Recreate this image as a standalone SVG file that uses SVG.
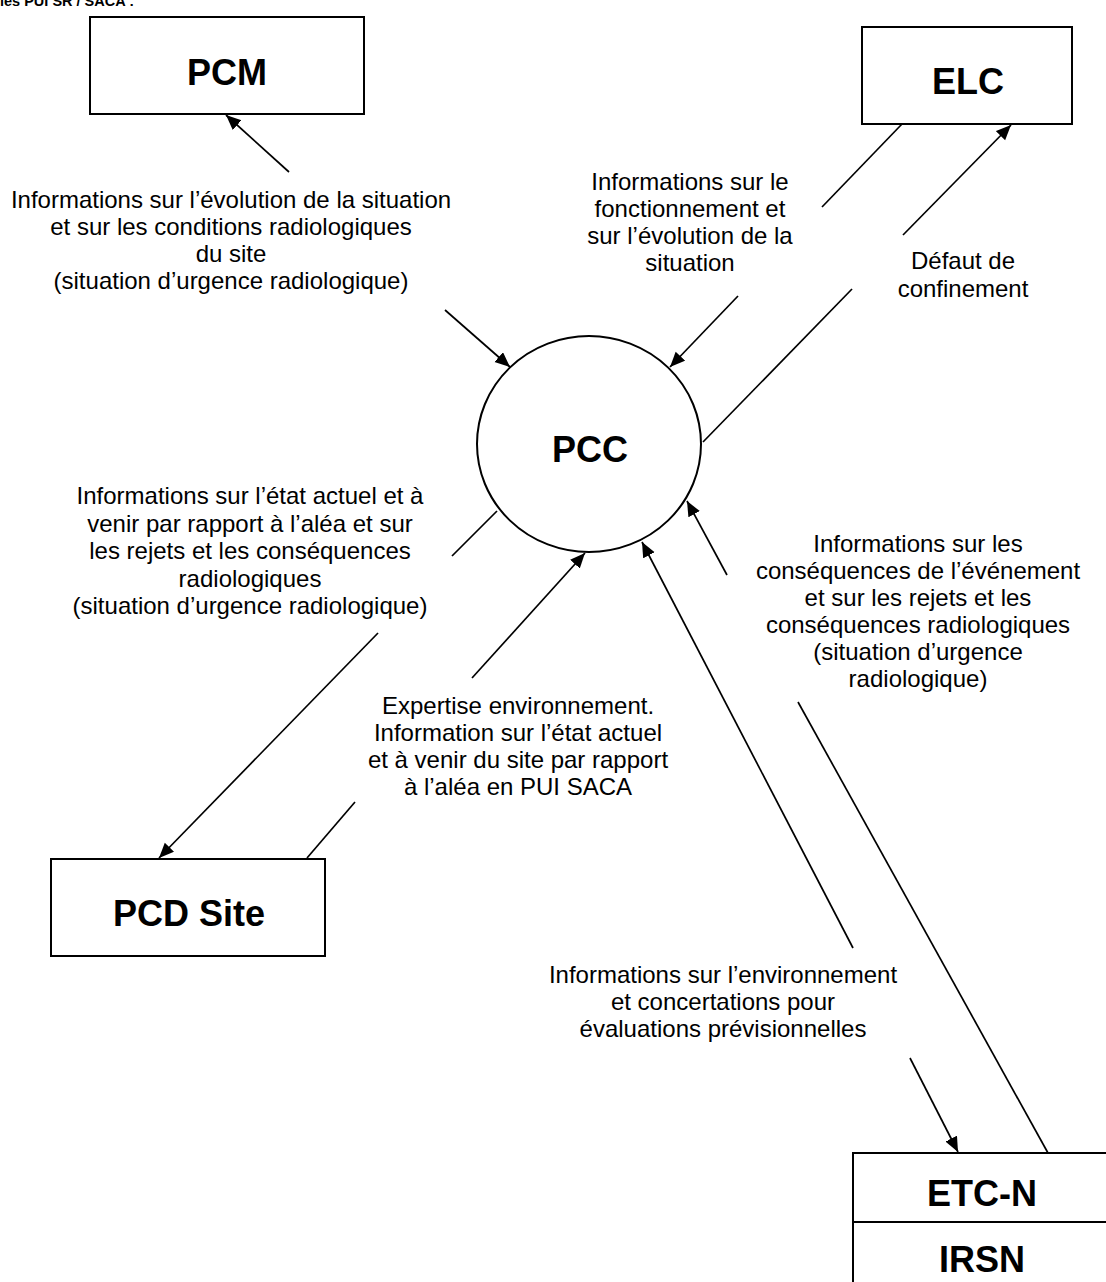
<svg xmlns="http://www.w3.org/2000/svg" width="1106" height="1282" viewBox="0 0 1106 1282">
<style>
.box{fill:#fff;stroke:#000;stroke-width:2}
.nl{font-family:"Liberation Sans",Arial,sans-serif;font-weight:bold;font-size:36px;text-anchor:middle;fill:#000}
.lb{font-family:"Liberation Sans",Arial,sans-serif;font-size:24px;text-anchor:middle;fill:#000}
.ti{font-family:"Liberation Sans",Arial,sans-serif;font-weight:bold;font-size:14.5px;fill:#000}
.c line{stroke:#000;stroke-width:1.7;fill:none}
</style>
<defs>
<marker id="ah" markerUnits="userSpaceOnUse" markerWidth="16" markerHeight="14" refX="15" refY="6.5" orient="auto">
<path d="M0,0 L15,6.5 L0,13 z" fill="#000"/>
</marker>
</defs>
<rect width="1106" height="1282" fill="#fff"/>
<text class="ti" x="0" y="6">les PUI SR / SACA :</text>

<g id="PCM"><rect class="box" x="90" y="17" width="274" height="97"/><text class="nl" x="227" y="85">PCM</text></g>
<g id="ELC"><rect class="box" x="862" y="27" width="210" height="97"/><text class="nl" x="968" y="94">ELC</text></g>
<g id="PCC"><ellipse class="box" cx="589" cy="444" rx="112" ry="108"/><text class="nl" x="590" y="462">PCC</text></g>
<g id="PCDSite"><rect class="box" x="51" y="859" width="274" height="97"/><text class="nl" x="189" y="926">PCD Site</text></g>
<g id="ETCN"><rect class="box" x="853" y="1153" width="262" height="140"/><line x1="853" y1="1222" x2="1115" y2="1222" stroke="#000" stroke-width="2"/><text class="nl" x="982" y="1206">ETC-N</text><text class="nl" x="982" y="1272">IRSN</text></g>

<g id="connectors" class="c">
<line x1="289" y1="172" x2="226" y2="115" marker-end="url(#ah)"/>
<line x1="445" y1="310" x2="510" y2="367" marker-end="url(#ah)"/>
<line x1="902" y1="124" x2="822" y2="207"/>
<line x1="738" y1="296" x2="670" y2="367" marker-end="url(#ah)"/>
<line x1="703" y1="442" x2="852" y2="289"/>
<line x1="903" y1="235" x2="1011" y2="125" marker-end="url(#ah)"/>
<line x1="497" y1="511" x2="452" y2="556"/>
<line x1="378" y1="633" x2="159" y2="858" marker-end="url(#ah)"/>
<line x1="307" y1="858" x2="355" y2="802"/>
<line x1="472" y1="678" x2="585" y2="553" marker-end="url(#ah)"/>
<line x1="1048" y1="1153" x2="798" y2="702"/>
<line x1="727" y1="575" x2="687" y2="501" marker-end="url(#ah)"/>
<line x1="853" y1="948" x2="642" y2="542" marker-end="url(#ah)"/>
<line x1="910" y1="1058" x2="958" y2="1152" marker-end="url(#ah)"/>
</g>

<g id="labels">
<text class="lb" x="231" y="208">Informations sur l’évolution de la situation</text>
<text class="lb" x="231" y="235">et sur les conditions radiologiques</text>
<text class="lb" x="231" y="262">du site</text>
<text class="lb" x="231" y="289">(situation d’urgence radiologique)</text>

<text class="lb" x="690" y="190">Informations sur le</text>
<text class="lb" x="690" y="217">fonctionnement et</text>
<text class="lb" x="690" y="244">sur l’évolution de la</text>
<text class="lb" x="690" y="271">situation</text>

<text class="lb" x="963" y="269">Défaut de</text>
<text class="lb" x="963" y="297">confinement</text>

<text class="lb" x="250" y="504">Informations sur l’état actuel et à</text>
<text class="lb" x="250" y="532">venir par rapport à l’aléa et sur</text>
<text class="lb" x="250" y="559">les rejets et les conséquences</text>
<text class="lb" x="250" y="587">radiologiques</text>
<text class="lb" x="250" y="614">(situation d’urgence radiologique)</text>

<text class="lb" x="518" y="714">Expertise environnement.</text>
<text class="lb" x="518" y="741">Information sur l’état actuel</text>
<text class="lb" x="518" y="768">et à venir du site par rapport</text>
<text class="lb" x="518" y="795">à l’aléa en PUI SACA</text>

<text class="lb" x="918" y="552">Informations sur les</text>
<text class="lb" x="918" y="579">conséquences de l’événement</text>
<text class="lb" x="918" y="606">et sur les rejets et les</text>
<text class="lb" x="918" y="633">conséquences radiologiques</text>
<text class="lb" x="918" y="660">(situation d’urgence</text>
<text class="lb" x="918" y="687">radiologique)</text>

<text class="lb" x="723" y="983">Informations sur l’environnement</text>
<text class="lb" x="723" y="1010">et concertations pour</text>
<text class="lb" x="723" y="1037">évaluations prévisionnelles</text>
</g>
</svg>
